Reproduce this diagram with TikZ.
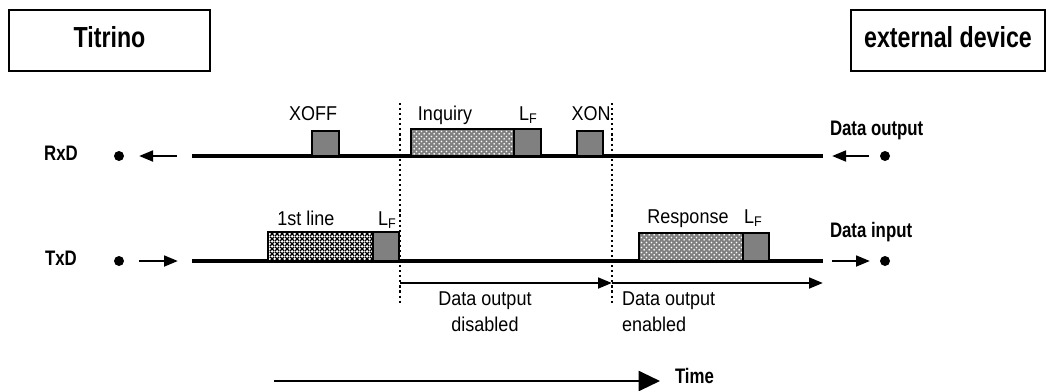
\documentclass[tikz,border=0pt]{standalone}
\usepackage{fontspec}
\setmainfont{Liberation Sans}[FakeStretch=0.9]
\newfontfamily\headfont{Liberation Sans}[FakeStretch=0.8]
\usetikzlibrary{arrows.meta,patterns,fit}

% fill textures for the data blocks
\pgfdeclarepatternformonly{xcross}{\pgfpointorigin}{\pgfpoint{3.75pt}{3.75pt}}{\pgfpoint{3.75pt}{3.75pt}}{
  \pgfsetlinewidth{1.1pt}
  \pgfpathmoveto{\pgfpoint{0pt}{0pt}}\pgfpathlineto{\pgfpoint{3.75pt}{3.75pt}}
  \pgfpathmoveto{\pgfpoint{0pt}{3.75pt}}\pgfpathlineto{\pgfpoint{3.75pt}{0pt}}
  \pgfusepath{stroke}}
\pgfdeclarepatternformonly{softdots}{\pgfpointorigin}{\pgfpoint{3.6pt}{3.6pt}}{\pgfpoint{3.6pt}{3.6pt}}{
  \pgfpathcircle{\pgfpoint{0.9pt}{0.9pt}}{0.75pt}
  \pgfpathcircle{\pgfpoint{2.7pt}{2.7pt}}{0.75pt}
  \pgfusepath{fill}}

\tikzset{
  x=0.75pt, y=-0.75pt,
  every node/.style={inner sep=0pt, outer sep=0pt},
  titlebox/.style={draw, line width=1.5pt, minimum height=45.75pt, text depth=6pt,
    font=\headfont\bfseries\fontsize{21.75}{26}\selectfont},
  sigtext/.style={font=\headfont\bfseries\fontsize{15.75}{19}\selectfont},
  lbl/.style={font=\fontsize{15}{19.5}\selectfont},
  signal/.style={line width=3.4pt},
  pin/.style={circle, fill=black, minimum size=7.5pt},
  sarrow/.style={line width=2pt, -{Triangle[length=10.5pt,width=8pt]}},
  marker/.style={line width=1.6pt, dash pattern=on 1.6pt off 2.2pt},
  pkt/.style={draw, line width=1.5pt, inner sep=0pt},
  lfbox/.style={pkt, fill=black!50},
  mesh/.style={pkt, preaction={fill=black!50}, pattern=softdots, pattern color=white},
  densemesh/.style={pkt, preaction={fill=white}, pattern=xcross, pattern color=black},
}

\begin{document}
\begin{tikzpicture}
\useasboundingbox (0,0) rectangle (1046,390);

% device boxes
\node[titlebox, minimum width=150.75pt] (titrino) at (109.5,40.5) {Titrino};
\node[titlebox, minimum width=145.5pt] (ext) at (948,40.5) {external device};

% signal names
\node[sigtext] (rxd) at (61,153) {RxD};
\node[sigtext] (txd) at (61,258) {TxD};
\node[sigtext, anchor=base west] (dout) at (830,135) {Data output};
\node[sigtext, anchor=base west] (din) at (830,237) {Data input};

% terminals
\node[pin] (rxl) at (119,156) {};
\node[pin] (txl) at (119,261) {};
\node[pin] (rxr) at (885,156) {};
\node[pin] (txr) at (885,261) {};

% direction arrows at the terminals
\coordinate (rxla) at (177,156); \coordinate (rxlb) at (139,156);
\coordinate (txla) at (139,261); \coordinate (txlb) at (178,261);
\coordinate (rxra) at (869,156); \coordinate (rxrb) at (832,156);
\coordinate (txra) at (832,261); \coordinate (txrb) at (870,261);
\draw[sarrow] (rxla) -- (rxlb);
\draw[sarrow] (txla) -- (txlb);
\draw[sarrow] (rxra) -- (rxrb);
\draw[sarrow] (txra) -- (txrb);

% signal lines
\coordinate (rxs) at (192,156); \coordinate (rxe) at (823,156);
\coordinate (txs) at (192,261); \coordinate (txe) at (823,261);
\draw[signal] (rxs) -- (rxe);
\draw[signal] (txs) -- (txe);

% RxD traffic
\node[lfbox, fit={(312,131) (339,156)}] (xoff) {};
\node[mesh, fit={(411,129) (514,156)}] (inq) {};
\node[lfbox, fit={(514,129) (541,156)}] (inqlf) {};
\node[lfbox, fit={(577,131) (603,156)}] (xon) {};
\node[lbl, anchor=base] (xofft) at (313,120) {XOFF};
\node[lbl, anchor=base] (inqt) at (445,120) {Inquiry};
\node[lbl, anchor=base west] (inqlft) at (519,120) {L\textsubscript{F}};
\node[lbl, anchor=base] (xont) at (591,120) {XON};

% TxD traffic
\node[densemesh, fit={(268,232) (373,261)}] (first) {};
\node[lfbox, fit={(373,232) (399,261)}] (firstlf) {};
\node[mesh, fit={(639,233) (743,261)}] (resp) {};
\node[lfbox, fit={(743,233) (769,261)}] (resplf) {};
\node[lbl, anchor=base] (firstt) at (306,225) {1st line};
\node[lbl, anchor=base west] (firstlft) at (378,225) {L\textsubscript{F}};
\node[lbl, anchor=base] (respt) at (688,223) {Response};
\node[lbl, anchor=base west] (resplft) at (744,223) {L\textsubscript{F}};

% time markers
\coordinate (m1t) at (400,103); \coordinate (m1b) at (400,305);
\coordinate (m2t) at (612,103); \coordinate (m2b) at (612,305);
\draw[marker] (m1t) -- (m1b);
\draw[marker] (m2t) -- (m2b);

% intervals
\coordinate (i1) at (400,283); \coordinate (i2) at (612,283); \coordinate (i3) at (823,283);
\draw[sarrow] (i1) -- (i2);
\draw[sarrow] (i2) -- (i3);
\node[lbl, align=center, anchor=north] (dis) at (485,291.5) {Data output\\disabled};
\node[lbl, align=left, anchor=north west] (ena) at (622,291.5) {Data output\\enabled};

% time axis
\coordinate (t0) at (274,381); \coordinate (t1) at (660,381);
\draw[line width=1.6pt, -{Triangle[length=16pt,width=15pt]}] (t0) -- (t1);
\node[sigtext, anchor=base west] (time) at (675,383) {Time};
\end{tikzpicture}
\end{document}
